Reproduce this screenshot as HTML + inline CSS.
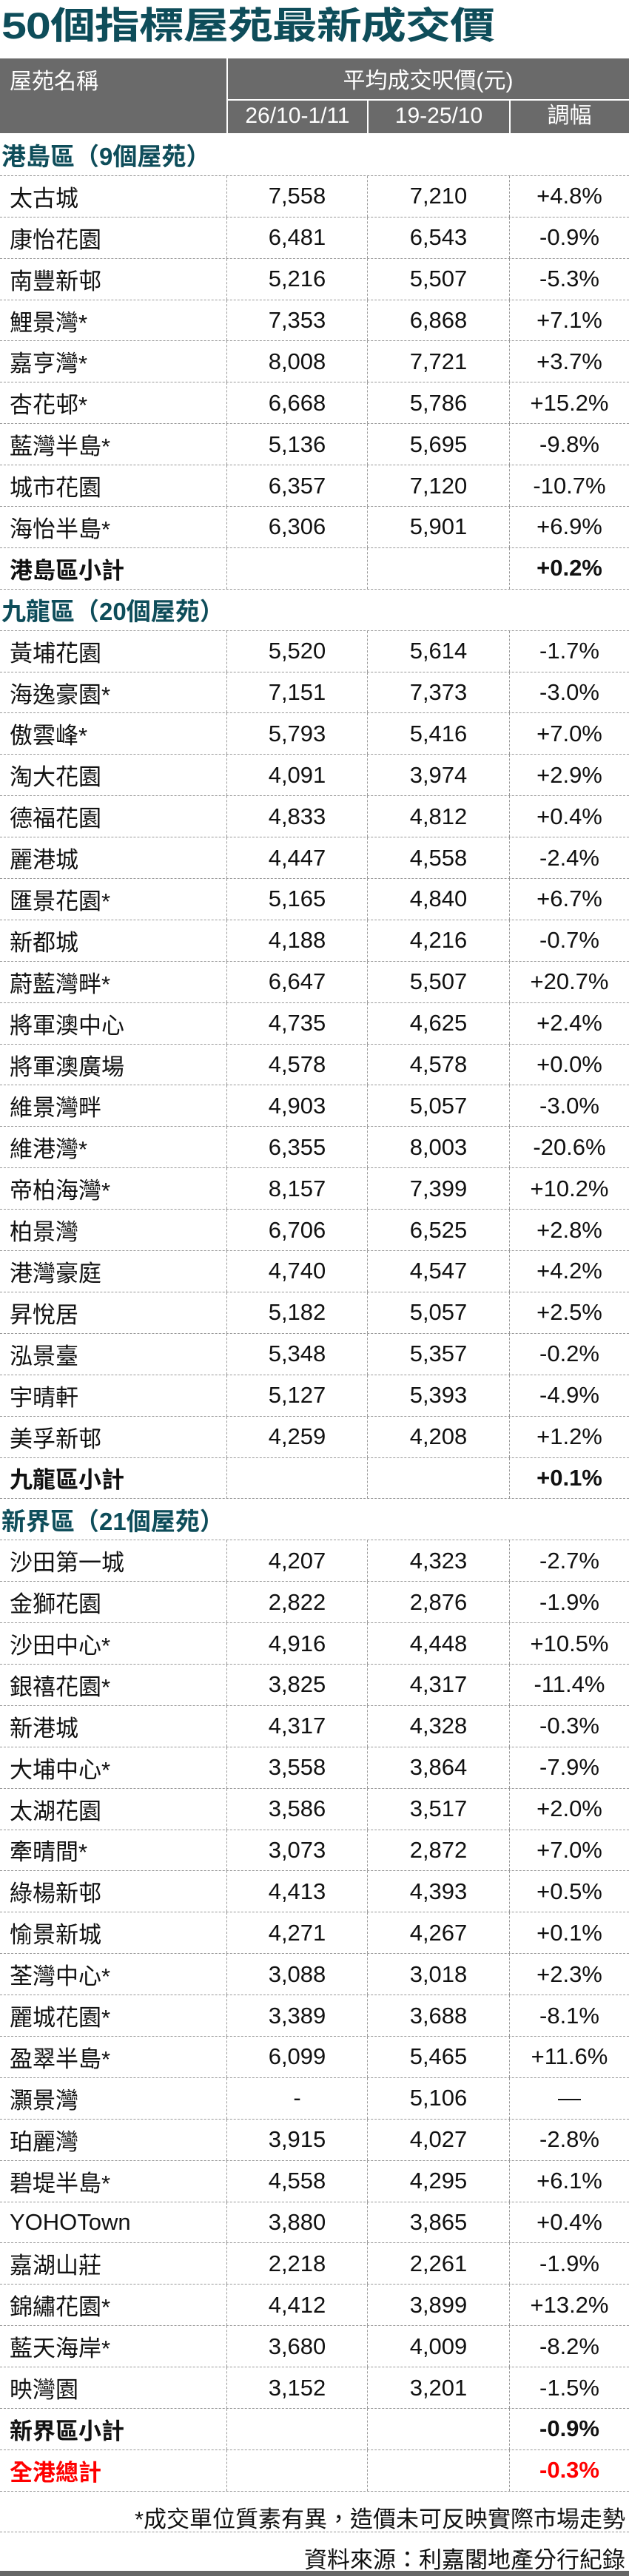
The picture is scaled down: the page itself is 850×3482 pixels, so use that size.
<!DOCTYPE html>
<html><head><meta charset="utf-8"><style>
*{margin:0;padding:0;box-sizing:border-box}
body{width:850px;height:3482px;background:#fff;position:relative;overflow:hidden;font-family:"Liberation Sans","Noto Sans CJK TC",sans-serif;color:#111}
.title{position:absolute;left:2px;top:2px;font-size:61px;font-weight:bold;color:#0e4d5a;letter-spacing:-1px;transform:scaleY(0.82);transform-origin:0 0;white-space:nowrap;line-height:80px}
.hd{position:absolute;left:0;top:79px;width:850px;height:103px;background:#6a6a6a;color:#fff}
.hd div{position:absolute;font-size:30px;line-height:1}
.vl{position:absolute;background:#fff;width:2px}
.hl{position:absolute;background:#fff;height:2px}
.tb{position:absolute;left:0;top:182px;width:850px}
.r{display:flex;height:55.9px;border-bottom:1.5px dashed #999;align-items:center;font-size:31px}
.r>div{height:100%;display:flex;align-items:center;justify-content:center}
.c1{width:307px;justify-content:flex-start!important;padding-left:13px;border-right:1.5px dashed #999}
.c2{width:190px;border-right:1.5px dashed #999}
.c3{width:192px;border-right:1.5px dashed #999}
.c4{width:161px}
.s{display:flex;height:55.9px;border-bottom:1.5px dashed #999;align-items:center;font-size:33px;font-weight:bold;color:#0e4d5a;padding-left:2px}
.b{font-weight:bold}
.red{color:#f00;font-weight:bold}
.ft{position:absolute;right:5px;font-size:31px;white-space:nowrap}
</style></head><body>
<div class="title">50個指標屋苑最新成交價</div>
<div class="hd">
<div style="left:13px;top:17px">屋苑名稱</div>
<div style="left:307px;width:543px;text-align:center;top:16px">平均成交呎價(元)</div>
<div style="left:307px;width:190px;text-align:center;top:63px">26/10-1/11</div>
<div style="left:497px;width:192px;text-align:center;top:63px">19-25/10</div>
<div style="left:689px;width:161px;text-align:center;top:63px">調幅</div>
<span class="vl" style="left:306px;top:0;height:103px"></span>
<span class="hl" style="left:307px;top:55px;width:543px"></span>
<span class="vl" style="left:496px;top:56px;height:47px"></span>
<span class="vl" style="left:688px;top:56px;height:47px"></span>
<span class="hl" style="left:0;top:101px;width:850px"></span>
</div>
<div class="tb">
<div class="s">港島區（9個屋苑）</div>
<div class="r"><div class="c1">太古城</div><div class="c2">7,558</div><div class="c3">7,210</div><div class="c4">+4.8%</div></div>
<div class="r"><div class="c1">康怡花園</div><div class="c2">6,481</div><div class="c3">6,543</div><div class="c4">-0.9%</div></div>
<div class="r"><div class="c1">南豐新邨</div><div class="c2">5,216</div><div class="c3">5,507</div><div class="c4">-5.3%</div></div>
<div class="r"><div class="c1">鯉景灣*</div><div class="c2">7,353</div><div class="c3">6,868</div><div class="c4">+7.1%</div></div>
<div class="r"><div class="c1">嘉亨灣*</div><div class="c2">8,008</div><div class="c3">7,721</div><div class="c4">+3.7%</div></div>
<div class="r"><div class="c1">杏花邨*</div><div class="c2">6,668</div><div class="c3">5,786</div><div class="c4">+15.2%</div></div>
<div class="r"><div class="c1">藍灣半島*</div><div class="c2">5,136</div><div class="c3">5,695</div><div class="c4">-9.8%</div></div>
<div class="r"><div class="c1">城市花園</div><div class="c2">6,357</div><div class="c3">7,120</div><div class="c4">-10.7%</div></div>
<div class="r"><div class="c1">海怡半島*</div><div class="c2">6,306</div><div class="c3">5,901</div><div class="c4">+6.9%</div></div>
<div class="r b"><div class="c1">港島區小計</div><div class="c2"></div><div class="c3"></div><div class="c4">+0.2%</div></div>
<div class="s">九龍區（20個屋苑）</div>
<div class="r"><div class="c1">黃埔花園</div><div class="c2">5,520</div><div class="c3">5,614</div><div class="c4">-1.7%</div></div>
<div class="r"><div class="c1">海逸豪園*</div><div class="c2">7,151</div><div class="c3">7,373</div><div class="c4">-3.0%</div></div>
<div class="r"><div class="c1">傲雲峰*</div><div class="c2">5,793</div><div class="c3">5,416</div><div class="c4">+7.0%</div></div>
<div class="r"><div class="c1">淘大花園</div><div class="c2">4,091</div><div class="c3">3,974</div><div class="c4">+2.9%</div></div>
<div class="r"><div class="c1">德福花園</div><div class="c2">4,833</div><div class="c3">4,812</div><div class="c4">+0.4%</div></div>
<div class="r"><div class="c1">麗港城</div><div class="c2">4,447</div><div class="c3">4,558</div><div class="c4">-2.4%</div></div>
<div class="r"><div class="c1">匯景花園*</div><div class="c2">5,165</div><div class="c3">4,840</div><div class="c4">+6.7%</div></div>
<div class="r"><div class="c1">新都城</div><div class="c2">4,188</div><div class="c3">4,216</div><div class="c4">-0.7%</div></div>
<div class="r"><div class="c1">蔚藍灣畔*</div><div class="c2">6,647</div><div class="c3">5,507</div><div class="c4">+20.7%</div></div>
<div class="r"><div class="c1">將軍澳中心</div><div class="c2">4,735</div><div class="c3">4,625</div><div class="c4">+2.4%</div></div>
<div class="r"><div class="c1">將軍澳廣場</div><div class="c2">4,578</div><div class="c3">4,578</div><div class="c4">+0.0%</div></div>
<div class="r"><div class="c1">維景灣畔</div><div class="c2">4,903</div><div class="c3">5,057</div><div class="c4">-3.0%</div></div>
<div class="r"><div class="c1">維港灣*</div><div class="c2">6,355</div><div class="c3">8,003</div><div class="c4">-20.6%</div></div>
<div class="r"><div class="c1">帝柏海灣*</div><div class="c2">8,157</div><div class="c3">7,399</div><div class="c4">+10.2%</div></div>
<div class="r"><div class="c1">柏景灣</div><div class="c2">6,706</div><div class="c3">6,525</div><div class="c4">+2.8%</div></div>
<div class="r"><div class="c1">港灣豪庭</div><div class="c2">4,740</div><div class="c3">4,547</div><div class="c4">+4.2%</div></div>
<div class="r"><div class="c1">昇悅居</div><div class="c2">5,182</div><div class="c3">5,057</div><div class="c4">+2.5%</div></div>
<div class="r"><div class="c1">泓景臺</div><div class="c2">5,348</div><div class="c3">5,357</div><div class="c4">-0.2%</div></div>
<div class="r"><div class="c1">宇晴軒</div><div class="c2">5,127</div><div class="c3">5,393</div><div class="c4">-4.9%</div></div>
<div class="r"><div class="c1">美孚新邨</div><div class="c2">4,259</div><div class="c3">4,208</div><div class="c4">+1.2%</div></div>
<div class="r b"><div class="c1">九龍區小計</div><div class="c2"></div><div class="c3"></div><div class="c4">+0.1%</div></div>
<div class="s">新界區（21個屋苑）</div>
<div class="r"><div class="c1">沙田第一城</div><div class="c2">4,207</div><div class="c3">4,323</div><div class="c4">-2.7%</div></div>
<div class="r"><div class="c1">金獅花園</div><div class="c2">2,822</div><div class="c3">2,876</div><div class="c4">-1.9%</div></div>
<div class="r"><div class="c1">沙田中心*</div><div class="c2">4,916</div><div class="c3">4,448</div><div class="c4">+10.5%</div></div>
<div class="r"><div class="c1">銀禧花園*</div><div class="c2">3,825</div><div class="c3">4,317</div><div class="c4">-11.4%</div></div>
<div class="r"><div class="c1">新港城</div><div class="c2">4,317</div><div class="c3">4,328</div><div class="c4">-0.3%</div></div>
<div class="r"><div class="c1">大埔中心*</div><div class="c2">3,558</div><div class="c3">3,864</div><div class="c4">-7.9%</div></div>
<div class="r"><div class="c1">太湖花園</div><div class="c2">3,586</div><div class="c3">3,517</div><div class="c4">+2.0%</div></div>
<div class="r"><div class="c1">牽晴間*</div><div class="c2">3,073</div><div class="c3">2,872</div><div class="c4">+7.0%</div></div>
<div class="r"><div class="c1">綠楊新邨</div><div class="c2">4,413</div><div class="c3">4,393</div><div class="c4">+0.5%</div></div>
<div class="r"><div class="c1">愉景新城</div><div class="c2">4,271</div><div class="c3">4,267</div><div class="c4">+0.1%</div></div>
<div class="r"><div class="c1">荃灣中心*</div><div class="c2">3,088</div><div class="c3">3,018</div><div class="c4">+2.3%</div></div>
<div class="r"><div class="c1">麗城花園*</div><div class="c2">3,389</div><div class="c3">3,688</div><div class="c4">-8.1%</div></div>
<div class="r"><div class="c1">盈翠半島*</div><div class="c2">6,099</div><div class="c3">5,465</div><div class="c4">+11.6%</div></div>
<div class="r"><div class="c1">灝景灣</div><div class="c2">-</div><div class="c3">5,106</div><div class="c4">—</div></div>
<div class="r"><div class="c1">珀麗灣</div><div class="c2">3,915</div><div class="c3">4,027</div><div class="c4">-2.8%</div></div>
<div class="r"><div class="c1">碧堤半島*</div><div class="c2">4,558</div><div class="c3">4,295</div><div class="c4">+6.1%</div></div>
<div class="r"><div class="c1">YOHOTown</div><div class="c2">3,880</div><div class="c3">3,865</div><div class="c4">+0.4%</div></div>
<div class="r"><div class="c1">嘉湖山莊</div><div class="c2">2,218</div><div class="c3">2,261</div><div class="c4">-1.9%</div></div>
<div class="r"><div class="c1">錦繡花園*</div><div class="c2">4,412</div><div class="c3">3,899</div><div class="c4">+13.2%</div></div>
<div class="r"><div class="c1">藍天海岸*</div><div class="c2">3,680</div><div class="c3">4,009</div><div class="c4">-8.2%</div></div>
<div class="r"><div class="c1">映灣園</div><div class="c2">3,152</div><div class="c3">3,201</div><div class="c4">-1.5%</div></div>
<div class="r b"><div class="c1">新界區小計</div><div class="c2"></div><div class="c3"></div><div class="c4">-0.9%</div></div>
<div class="r red"><div class="c1">全港總計</div><div class="c2"></div><div class="c3"></div><div class="c4">-0.3%</div></div>
</div>
<div class="ft" style="top:3380px">*成交單位質素有異，造價未可反映實際市場走勢</div>
<div style="position:absolute;left:0;top:3422px;width:850px;border-top:1.5px dashed #999"></div>
<div class="ft" style="top:3435px">資料來源：利嘉閣地產分行紀錄</div>
<div style="position:absolute;left:0;top:3475px;width:850px;height:7px;background:#666"></div>
</body></html>
